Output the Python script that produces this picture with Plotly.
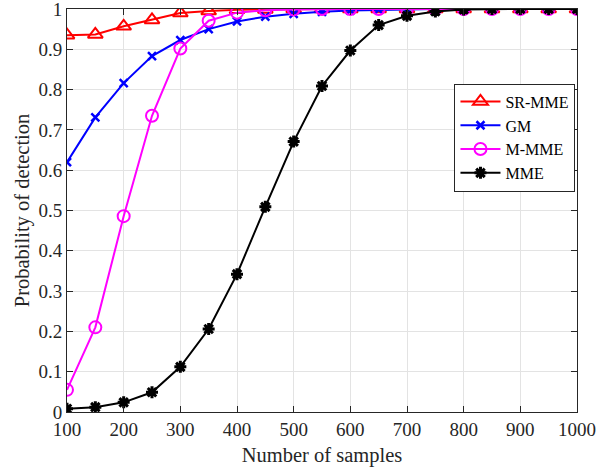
import plotly.graph_objects as go

# Number of samples
samples = [100, 150, 200, 250, 300, 350, 400, 450, 500, 550,
           600, 650, 700, 750, 800, 850, 900, 950, 1000]

# Probability of detection for each detector
pd_sr_mme = [0.935, 0.937, 0.957, 0.973, 0.990, 0.995, 0.998, 0.999, 1.0, 1.0,
             1.0, 1.0, 1.0, 1.0, 1.0, 1.0, 1.0, 1.0, 1.0]
pd_gm = [0.620, 0.731, 0.816, 0.883, 0.923, 0.950, 0.969, 0.981, 0.988, 0.993,
         0.996, 0.998, 0.999, 1.0, 1.0, 1.0, 1.0, 1.0, 1.0]
pd_m_mme = [0.055, 0.210, 0.486, 0.735, 0.902, 0.971, 0.991, 0.997, 0.999, 1.0,
            1.0, 1.0, 1.0, 1.0, 1.0, 1.0, 1.0, 1.0, 1.0]
pd_mme = [0.008, 0.012, 0.024, 0.049, 0.112, 0.206, 0.342, 0.509, 0.671, 0.809,
          0.897, 0.960, 0.983, 0.994, 0.999, 1.0, 1.0, 1.0, 1.0]

y_ticks = [0, 0.1, 0.2, 0.3, 0.4, 0.5, 0.6, 0.7, 0.8, 0.9, 1]
y_tick_labels = ["0", "0.1", "0.2", "0.3", "0.4", "0.5", "0.6", "0.7", "0.8", "0.9", "1"]
x_ticks = [100, 200, 300, 400, 500, 600, 700, 800, 900, 1000]

series = [
    ("SR-MME", pd_sr_mme, "#ff0000", dict(symbol="triangle-up-open", size=13, line=dict(width=2))),
    ("GM", pd_gm, "#0000ff", dict(symbol="x-thin-open", size=8, line=dict(width=2.5))),
    ("M-MME", pd_m_mme, "#ff00ff", dict(symbol="circle-open", size=12, line=dict(width=2))),
    ("MME", pd_mme, "#000000", dict(symbol="asterisk-open", size=10, line=dict(width=3))),
]

fig = go.Figure()
for name, vals, color, marker in series:
    marker = dict(marker, color=color)
    marker["line"] = dict(marker["line"], color=color)
    fig.add_trace(go.Scatter(
        x=samples, y=vals, name=name, mode="lines+markers",
        line=dict(color=color, width=2), marker=marker,
    ))

axis_color = "#262626"
font_family = "Liberation Serif, Times New Roman, serif"

fig.update_layout(
    width=616, height=469,
    margin=dict(l=67, r=39, t=9, b=57),
    paper_bgcolor="white", plot_bgcolor="white",
    font=dict(family=font_family, size=19, color=axis_color),
    showlegend=True,
    legend=dict(
        x=0.997, y=0.815, xanchor="right", yanchor="top",
        bgcolor="white", bordercolor=axis_color, borderwidth=1,
        font=dict(family=font_family, size=16, color="#000000"),
        tracegroupgap=0, itemwidth=40,
    ),
    xaxis=dict(
        range=[100, 1000], tickvals=x_ticks, automargin=False,
        ticklabeloverflow="allow",
        showgrid=True, gridcolor="#e3e3e3", gridwidth=1,
        showline=True, linecolor=axis_color, linewidth=1, mirror="ticks",
        ticks="inside", ticklen=6, tickcolor=axis_color,
        zeroline=False, tickfont=dict(size=19),
        title=dict(text="Number of samples", font=dict(size=20.5), standoff=8),
    ),
    yaxis=dict(
        range=[0, 1], tickvals=y_ticks, ticktext=y_tick_labels, automargin=False,
        ticklabeloverflow="allow",
        showgrid=True, gridcolor="#e3e3e3", gridwidth=1,
        showline=True, linecolor=axis_color, linewidth=1, mirror="ticks",
        ticks="inside", ticklen=6, tickcolor=axis_color,
        zeroline=False, tickfont=dict(size=19),
        title=dict(text="Probability of detection", font=dict(size=20.5), standoff=3),
    ),
)

fig.write_html("out.html")
